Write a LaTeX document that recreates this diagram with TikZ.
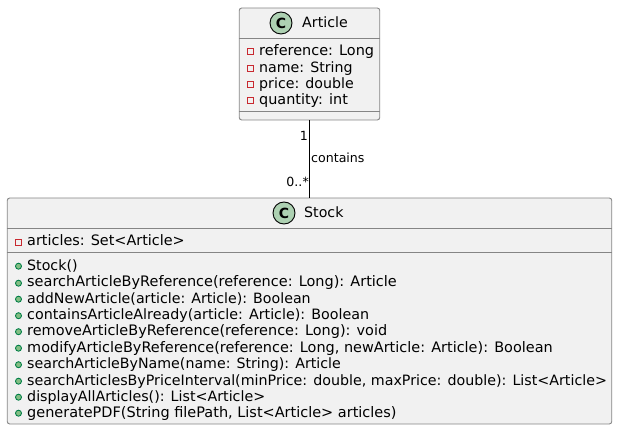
\documentclass[tikz,border=0pt]{standalone}
\usepackage{fontspec}
\setmainfont{DejaVu Sans}
\usetikzlibrary{calc}

\definecolor{boxfill}{HTML}{F1F1F1}
\definecolor{boxline}{HTML}{858585}
\definecolor{iconfill}{HTML}{ADD1B2}
\definecolor{privred}{HTML}{C82930}
\definecolor{pubgreen}{HTML}{84BE84}
\definecolor{publine}{HTML}{038048}

\tikzset{
    classbox/.style={draw=boxline, fill=boxfill, line width=0.9pt, rounded corners=2.5pt, inner sep=0pt},
    classicon/.style={circle, draw=black, fill=iconfill, line width=0.9pt, minimum size=22pt, inner sep=0pt, font=\fontsize{14}{14}\selectfont\bfseries},
    classname/.style={anchor=base west, inner sep=0pt, font=\fontsize{14.2}{14}\selectfont},
    member/.style={anchor=base west, inner sep=0pt, font=\fontsize{#1}{14}\selectfont},
    assoclabel/.style={inner sep=0pt, font=\fontsize{12.6}{13}\selectfont},
    sepline/.style={draw=boxline, line width=0.9pt},
    privmark/.style={draw=privred, line width=0.9pt, minimum size=6pt, inner sep=0pt},
    pubmark/.style={circle, draw=publine, fill=pubgreen, line width=0.9pt, minimum size=6pt, inner sep=0pt},
}

\begin{document}
\begin{tikzpicture}[x=1pt, y=-1pt]
    \useasboundingbox (0,0) rectangle (618,430);

    % boxes
    \node [classbox, minimum width=140.5pt, minimum height=112pt] (article) at (309.5,64) {};
    \node [classbox, minimum width=604.5pt, minimum height=226pt] (stock) at (309.5,311) {};

    \draw [sepline] ($(article.north west)+(0,31)$) -- ($(article.north east)+(0,31)$);
    \draw [sepline] ($(article.north west)+(0,104)$) -- ($(article.north east)+(0,104)$);
    \draw [sepline] ($(stock.north west)+(0,31)$) -- ($(stock.north east)+(0,31)$);
    \draw [sepline] ($(stock.north west)+(0,55)$) -- ($(stock.north east)+(0,55)$);

    % headers
    \node [classicon] (articleicon) at (281,23) {C};
    \node [classname] (articlename) at (302,28) {Article};
    \node [classicon] (stockicon) at (284,213) {C};
    \node [classname] (stockname) at (304,218) {Stock};

    % attributes of article
    \foreach \i/\ypos/\sz/\txt in {1/56/14.45/{reference: Long}, 2/72.5/14.2/{name: String}, 3/89/14.2/{price: double}, 4/105/14.4/{quantity: int}} {
        \node [privmark] (articlemark\i) at (250.5,\ypos-4.5) {};
        \node [member=\sz] (articleattr\i) at (259,\ypos) {\txt};
    }

    % attribute of stock
    \node [privmark] (stockmark) at (18.5,242) {};
    \node [member=14.4] (stockattr) at (27,246) {articles: Set<Article>};

    % methods of stock
    \foreach \i/\ypos/\sz/\txt in {
        1/270/14.2/{Stock()},
        2/287/14.47/{searchArticleByReference(reference: Long): Article},
        3/303/14.2/{addNewArticle(article: Article): Boolean},
        4/319.5/14.28/{containsArticleAlready(article: Article): Boolean},
        5/335.5/14.44/{removeArticleByReference(reference: Long): void},
        6/352/14.45/{modifyArticleByReference(reference: Long, newArticle: Article): Boolean},
        7/368.5/14.2/{searchArticleByName(name: String): Article},
        8/385/14.25/{searchArticlesByPriceInterval(minPrice: double, maxPrice: double): List<Article>},
        9/401/14.26/{displayAllArticles(): List<Article>},
        10/417/14.47/{generatePDF(String filePath, List<Article> articles)}} {
        \node [pubmark] (stockmark\i) at (18.5,\ypos-3.8) {};
        \node [member=\sz] (stockop\i) at (27,\ypos) {\txt};
    }

    % association
    \draw [line width=0.9pt] (article) -- (stock);
    \node [assoclabel, anchor=base east] (articleend) at (308,141) {1};
    \node [assoclabel, anchor=base west] (assocname) at (311,163) {contains};
    \node [assoclabel, anchor=base east] (stockend) at (309,187) {0..*};
\end{tikzpicture}
\end{document}
